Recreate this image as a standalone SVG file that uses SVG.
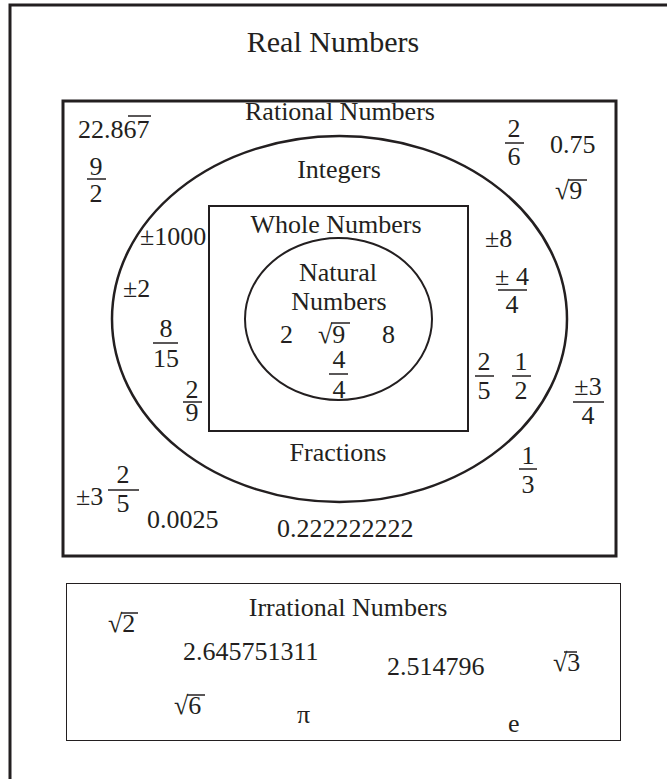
<svg xmlns="http://www.w3.org/2000/svg" width="667" height="779" viewBox="0 0 667 779">
<style>
text{font-family:"Liberation Serif","Times New Roman",serif;font-size:26px;fill:#231f20}
.m{text-anchor:middle}
.b{fill:none;stroke:#231f20}
.bar{stroke:#231f20;stroke-width:1.5}
</style>
<rect width="667" height="779" fill="#fff"/>
<g id="real">
<rect class="b" x="10" y="5" width="700" height="800" stroke-width="3"/>
<text class="m" x="333" y="52" style="font-size:30px">Real Numbers</text>
</g>
<g id="rational">
<rect class="b" x="63" y="101" width="553" height="455" stroke-width="3"/>
<text class="m" x="340" y="120">Rational Numbers</text>
<text x="78" y="138">22.867</text>
<line class="bar" x1="128" y1="116" x2="151" y2="116"/>
<text class="m" x="96" y="175">9</text><line class="bar" x1="87" y1="179" x2="106" y2="179"/><text class="m" x="96" y="202">2</text>
<text class="m" x="514" y="137">2</text><line class="bar" x1="505" y1="143" x2="524" y2="143"/><text class="m" x="514" y="165">6</text>
<text x="550" y="153">0.75</text>
<text x="555" y="199">√9</text><line class="bar" x1="568" y1="180" x2="587" y2="180"/>
<text x="76" y="505">±3</text>
<text class="m" x="123" y="483">2</text><line class="bar" x1="108" y1="490" x2="139" y2="490"/><text class="m" x="123" y="512">5</text>
<text x="147" y="528">0.0025</text>
<text x="277" y="537">0.222222222</text>
<text class="m" x="588" y="395">±3</text><line class="bar" x1="573" y1="402" x2="604" y2="402"/><text class="m" x="588" y="424">4</text>
<text class="m" x="528" y="464">1</text><line class="bar" x1="519" y1="469" x2="537" y2="469"/><text class="m" x="528" y="493">3</text>
</g>
<g id="integers">
<ellipse class="b" cx="339.5" cy="319" rx="227.5" ry="183" stroke-width="2.5"/>
<text class="m" x="339" y="178">Integers</text>
<text x="140" y="245">±1000</text>
<text x="123" y="297">±2</text>
<text class="m" x="166" y="337">8</text><line class="bar" x1="153" y1="343" x2="178" y2="343"/><text class="m" x="166" y="367">15</text>
<text class="m" x="192" y="398">2</text><line class="bar" x1="183" y1="402" x2="202" y2="402"/><text class="m" x="192" y="421">9</text>
<text x="485" y="247">±8</text>
<text class="m" x="512" y="285">± 4</text><line class="bar" x1="498" y1="290" x2="527" y2="290"/><text class="m" x="512" y="313">4</text>
<text class="m" x="484" y="370">2</text><line class="bar" x1="475" y1="376" x2="494" y2="376"/><text class="m" x="484" y="399">5</text>
<text class="m" x="521" y="370">1</text><line class="bar" x1="512" y1="376" x2="531" y2="376"/><text class="m" x="521" y="399">2</text>
<text class="m" x="338" y="461">Fractions</text>
</g>
<g id="whole">
<rect class="b" x="209" y="206" width="259" height="225" stroke-width="2"/>
<text class="m" x="336" y="233">Whole Numbers</text>
</g>
<g id="natural">
<ellipse class="b" cx="338.5" cy="319" rx="93.5" ry="81" stroke-width="2"/>
<text class="m" x="338" y="281">Natural</text>
<text class="m" x="339" y="310">Numbers</text>
<text x="280" y="343">2</text>
<text x="318" y="343">√9</text><line class="bar" x1="331" y1="323" x2="350" y2="323"/>
<text x="382" y="343">8</text>
<text class="m" x="339" y="368">4</text><line class="bar" x1="329" y1="374" x2="348" y2="374"/><text class="m" x="339" y="398">4</text>
</g>
<g id="irrational">
<rect class="b" x="66.5" y="583.5" width="554" height="157" stroke-width="1"/>
<text class="m" x="348" y="616">Irrational Numbers</text>
<text x="108" y="632">√2</text><line class="bar" x1="121" y1="613" x2="138" y2="613"/>
<text x="183" y="660">2.645751311</text>
<text x="387" y="675">2.514796</text>
<text x="553" y="671">√3</text><line class="bar" x1="564" y1="652" x2="577" y2="652"/>
<text x="174" y="714">√6</text><line class="bar" x1="187" y1="695" x2="205" y2="695"/>
<text x="297" y="723">π</text>
<text x="508" y="732">e</text>
</g>
</svg>
